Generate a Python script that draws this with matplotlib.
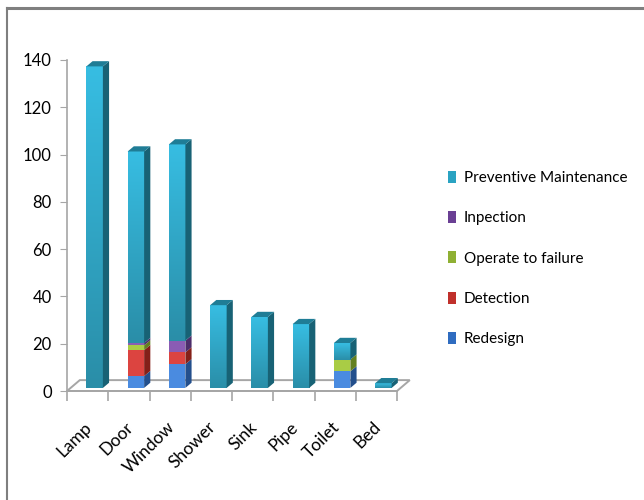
import numpy as np
import matplotlib.pyplot as plt
from matplotlib.patches import Polygon, Patch
from matplotlib.lines import Line2D
from matplotlib.colors import LinearSegmentedColormap

plt.rcParams['font.family'] = ['Lato', 'DejaVu Sans']

categories = ['Lamp', 'Door', 'Window', 'Shower', 'Sink', 'Pipe', 'Toilet', 'Bed']
redesign = [0, 5, 10, 0, 0, 0, 7, 0]
detection = [0, 11, 5, 0, 0, 0, 0, 0]
operate_to_failure = [0, 2, 0, 0, 0, 0, 5, 0]
inpection = [0, 1, 5, 0, 0, 0, 0, 0]
preventive = [136, 81, 83, 35, 30, 27, 7, 2]

# stacking order bottom -> top; (label, values, front light, front dark, side, top)
series = [
    ('Redesign', redesign, '#4a8be0', '#2f6cc0', '#234f8c', '#2d63ad'),
    ('Detection', detection, '#dc4440', '#c02f2b', '#842019', '#a82a25'),
    ('Operate to failure', operate_to_failure, '#a9cc45', '#8fb033', '#63801f', '#7fa02a'),
    ('Inpection', inpection, '#8a5cb4', '#6e4596', '#4c2d6b', '#5e3a84'),
    ('Preventive Maintenance', preventive, '#37bde2', '#2a8ea8', '#186275', '#1f7d96'),
]
legend_colors = {'Redesign': '#2f6cc0', 'Detection': '#c0302b',
                 'Operate to failure': '#8fb033', 'Inpection': '#6a3f94',
                 'Preventive Maintenance': '#2aa3c2'}

fig = plt.figure(figsize=(6.44, 5.0), dpi=100)
ax = fig.add_axes([67 / 644, 109 / 500, 330 / 644, 331 / 500])
ax.set_xlim(-0.5, 7.5)
ax.set_ylim(0, 140)

# 3d look: face offset, bar width, depth shift
off = 0.17
w = 0.40
dx, dy = 0.15, 2.2
base = 1.3
floor_dx, floor_dy = 0.31, 4.6

# floor plate
floor = Polygon([(-0.5, 0), (7.5, 0), (7.5 + floor_dx, floor_dy), (-0.5 + floor_dx, floor_dy)],
                closed=True, facecolor='white', edgecolor='#a6a6a6', lw=1.4,
                clip_on=False, zorder=1)
ax.add_patch(floor)


def gradient_face(x0, y0, x1, y1, c_top, c_bot):
    cmap = LinearSegmentedColormap.from_list('g', [c_bot, c_top])
    grad = np.linspace(0, 1, 64).reshape(-1, 1)
    ax.imshow(grad, cmap=cmap, extent=(x0, x1, y0, y1), origin='lower',
              aspect='auto', zorder=3, clip_on=False, interpolation='bilinear')


x = np.arange(len(categories))
bottoms = np.full(len(categories), base, dtype=float)
for label, vals, c_light, c_dark, c_side, c_top in series:
    vals = np.array(vals, dtype=float)
    for i in range(len(categories)):
        v = vals[i]
        if v <= 0:
            continue
        x0 = x[i] + off - w / 2
        x1 = x[i] + off + w / 2
        y0 = bottoms[i]
        y1 = y0 + v
        if label == 'Preventive Maintenance':
            gradient_face(x0, y0, x1, y1, c_light, c_dark)
        else:
            ax.add_patch(plt.Rectangle((x0, y0), w, v, facecolor=c_light,
                                       edgecolor='none', zorder=3, clip_on=False))
        side = Polygon([(x1, y0), (x1 + dx, y0 + dy), (x1 + dx, y1 + dy), (x1, y1)],
                       closed=True, facecolor=c_side, edgecolor='none', zorder=3, clip_on=False)
        ax.add_patch(side)
    bottoms = bottoms + vals

# top caps on each column
for i in range(len(categories)):
    top_series = [s for s in series if s[1][i] > 0][-1]
    x0 = x[i] + off - w / 2
    x1 = x[i] + off + w / 2
    y1 = bottoms[i]
    cap = Polygon([(x0, y1), (x0 + dx, y1 + dy), (x1 + dx, y1 + dy), (x1, y1)],
                  closed=True, facecolor=top_series[5], edgecolor='none', zorder=4, clip_on=False)
    ax.add_patch(cap)

# axes styling
for s in ['top', 'right']:
    ax.spines[s].set_visible(False)
ax.spines['left'].set_color('#a6a6a6')
ax.spines['bottom'].set_color('#a6a6a6')
ax.spines['left'].set_linewidth(1.2)
ax.spines['bottom'].set_linewidth(1.2)
ax.set_yticks(np.arange(0, 141, 20))
ax.tick_params(axis='y', length=5, color='#a6a6a6', labelsize=12, pad=6, labelcolor='black')

ax.set_xticks(np.arange(-0.5, 8.0, 1.0), minor=True)
ax.set_xticks(x - 0.09)
ax.set_xticklabels(categories, rotation=45, ha='right', rotation_mode='anchor', fontsize=12.5)
ax.tick_params(axis='x', which='major', length=0, pad=20)
ax.tick_params(axis='x', which='minor', length=7, color='#a6a6a6', width=1.2)

handles = [Patch(facecolor=legend_colors[s[0]], edgecolor='none', label=s[0]) for s in series[::-1]]
fig.legend(handles=handles, loc='upper left', bbox_to_anchor=(434 / 644, 1 - 157 / 500),
           frameon=False, fontsize=11, labelspacing=1.71, handlelength=0.53,
           handleheight=0.82, handletextpad=0.52)

# chart border, top and left edges
fig.add_artist(Line2D([7 / 644, 1], [1 - 8 / 500, 1 - 8 / 500], color='#7f7f7f', lw=2.2))
fig.add_artist(Line2D([7 / 644, 7 / 644], [0, 1 - 8 / 500], color='#7f7f7f', lw=1.5))

fig.savefig('out.png', dpi=100)
